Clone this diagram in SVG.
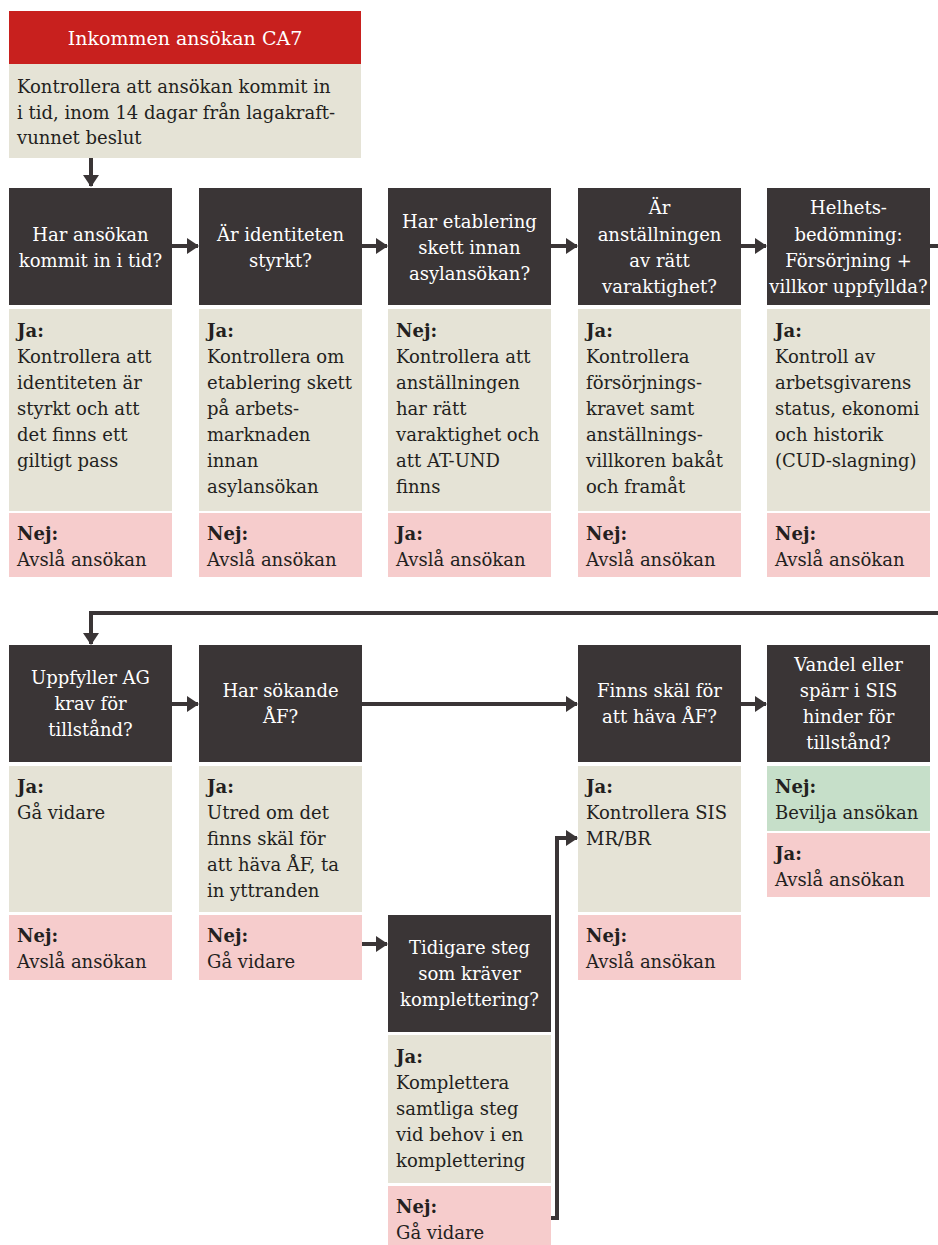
<svg xmlns="http://www.w3.org/2000/svg" width="938" height="1245" viewBox="0 0 938 1245">
<defs>
<style>
text{font-family:"DejaVu Serif","Liberation Serif",serif;font-size:18px;fill:#231f20}
.q{fill:#3a3536}
.q-t{fill:#ffffff;text-anchor:middle}
.title{font-size:19px}
.ja{fill:#e5e3d6}
.nej{fill:#f6cccc}
.ok{fill:#c6dfc9}
.red{fill:#c8201e}
.b{font-weight:bold}
.conn{fill:none;stroke:#3a3536;stroke-width:4}
</style>
<marker id="ah" markerUnits="userSpaceOnUse" markerWidth="12" markerHeight="16" refX="11" refY="8" orient="auto">
<path d="M0,0 L12,8 L0,16 Z" fill="#3a3536"/>
</marker>
</defs>
<rect width="938" height="1245" fill="#ffffff"/>

<g id="connectors">
<path class="conn" d="M91,158 V186" marker-end="url(#ah)"/>
<path class="conn" d="M172,246 H198" marker-end="url(#ah)"/>
<path class="conn" d="M362,246 H387" marker-end="url(#ah)"/>
<path class="conn" d="M551,246 H577" marker-end="url(#ah)"/>
<path class="conn" d="M740,246 H766" marker-end="url(#ah)"/>
<path class="conn" d="M929,246 H938"/>
<path class="conn" d="M938,613 H91 V644" marker-end="url(#ah)"/>
<path class="conn" d="M172,704 H198" marker-end="url(#ah)"/>
<path class="conn" d="M362,704 H577" marker-end="url(#ah)"/>
<path class="conn" d="M741,704 H766" marker-end="url(#ah)"/>
<path class="conn" d="M362,944 H387" marker-end="url(#ah)"/>
<path class="conn" d="M551,1218 H557 V838 H577" marker-end="url(#ah)"/>
</g>

<g id="start">
<rect class="red" x="9" y="11" width="352" height="53"/>
<text class="q-t title" x="185" y="45">Inkommen ansökan CA7</text>
<rect class="ja" x="9" y="64" width="352" height="94"/>
<text x="17" y="93">Kontrollera att ansökan kommit in</text>
<text x="17" y="119">i tid, inom 14 dagar från lagakraft-</text>
<text x="17" y="144">vunnet beslut</text>
</g>

<g id="n1">
<rect class="q" x="9" y="188" width="163" height="117"/>
<text class="q-t" x="90.5" y="241">Har ansökan</text>
<text class="q-t" x="90.5" y="267">kommit in i tid?</text>
<rect class="ja" x="9" y="309" width="163" height="202"/>
<text class="b" x="17" y="337">Ja:</text>
<text x="17" y="363">Kontrollera att</text>
<text x="17" y="389">identiteten är</text>
<text x="17" y="415">styrkt och att</text>
<text x="17" y="441">det finns ett</text>
<text x="17" y="467">giltigt pass</text>
<rect class="nej" x="9" y="513" width="163" height="64"/>
<text class="b" x="17" y="540">Nej:</text>
<text x="17" y="566">Avslå ansökan</text>
</g>

<g id="n2">
<rect class="q" x="199" y="188" width="163" height="117"/>
<text class="q-t" x="280.5" y="241">Är identiteten</text>
<text class="q-t" x="280.5" y="267">styrkt?</text>
<rect class="ja" x="199" y="309" width="163" height="202"/>
<text class="b" x="207" y="337">Ja:</text>
<text x="207" y="363">Kontrollera om</text>
<text x="207" y="389">etablering skett</text>
<text x="207" y="415">på arbets-</text>
<text x="207" y="441">marknaden</text>
<text x="207" y="467">innan</text>
<text x="207" y="493">asylansökan</text>
<rect class="nej" x="199" y="513" width="163" height="64"/>
<text class="b" x="207" y="540">Nej:</text>
<text x="207" y="566">Avslå ansökan</text>
</g>

<g id="n3">
<rect class="q" x="388" y="188" width="163" height="117"/>
<text class="q-t" x="469.5" y="228">Har etablering</text>
<text class="q-t" x="469.5" y="254">skett innan</text>
<text class="q-t" x="469.5" y="280">asylansökan?</text>
<rect class="ja" x="388" y="309" width="163" height="202"/>
<text class="b" x="396" y="337">Nej:</text>
<text x="396" y="363">Kontrollera att</text>
<text x="396" y="389">anställningen</text>
<text x="396" y="415">har rätt</text>
<text x="396" y="441">varaktighet och</text>
<text x="396" y="467">att AT-UND</text>
<text x="396" y="493">finns</text>
<rect class="nej" x="388" y="513" width="163" height="64"/>
<text class="b" x="396" y="540">Ja:</text>
<text x="396" y="566">Avslå ansökan</text>
</g>

<g id="n4">
<rect class="q" x="578" y="188" width="163" height="117"/>
<text class="q-t" x="659.5" y="214">Är</text>
<text class="q-t" x="659.5" y="241">anställningen</text>
<text class="q-t" x="659.5" y="267">av rätt</text>
<text class="q-t" x="659.5" y="293">varaktighet?</text>
<rect class="ja" x="578" y="309" width="163" height="202"/>
<text class="b" x="586" y="337">Ja:</text>
<text x="586" y="363">Kontrollera</text>
<text x="586" y="389">försörjnings-</text>
<text x="586" y="415">kravet samt</text>
<text x="586" y="441">anställnings-</text>
<text x="586" y="467">villkoren bakåt</text>
<text x="586" y="493">och framåt</text>
<rect class="nej" x="578" y="513" width="163" height="64"/>
<text class="b" x="586" y="540">Nej:</text>
<text x="586" y="566">Avslå ansökan</text>
</g>

<g id="n5">
<rect class="q" x="767" y="188" width="163" height="117"/>
<text class="q-t" x="848.5" y="214">Helhets-</text>
<text class="q-t" x="848.5" y="241">bedömning:</text>
<text class="q-t" x="848.5" y="267">Försörjning +</text>
<text class="q-t" x="848.5" y="293">villkor uppfyllda?</text>
<rect class="ja" x="767" y="309" width="163" height="202"/>
<text class="b" x="775" y="337">Ja:</text>
<text x="775" y="363">Kontroll av</text>
<text x="775" y="389">arbetsgivarens</text>
<text x="775" y="415">status, ekonomi</text>
<text x="775" y="441">och historik</text>
<text x="775" y="467">(CUD-slagning)</text>
<rect class="nej" x="767" y="513" width="163" height="64"/>
<text class="b" x="775" y="540">Nej:</text>
<text x="775" y="566">Avslå ansökan</text>
</g>

<g id="n6">
<rect class="q" x="9" y="645" width="163" height="117"/>
<text class="q-t" x="90.5" y="684">Uppfyller AG</text>
<text class="q-t" x="90.5" y="710">krav för</text>
<text class="q-t" x="90.5" y="736">tillstånd?</text>
<rect class="ja" x="9" y="766" width="163" height="146"/>
<text class="b" x="17" y="793">Ja:</text>
<text x="17" y="819">Gå vidare</text>
<rect class="nej" x="9" y="915" width="163" height="65"/>
<text class="b" x="17" y="942">Nej:</text>
<text x="17" y="968">Avslå ansökan</text>
</g>

<g id="n7">
<rect class="q" x="199" y="645" width="163" height="117"/>
<text class="q-t" x="280.5" y="697">Har sökande</text>
<text class="q-t" x="280.5" y="723">ÅF?</text>
<rect class="ja" x="199" y="766" width="163" height="146"/>
<text class="b" x="207" y="793">Ja:</text>
<text x="207" y="819">Utred om det</text>
<text x="207" y="845">finns skäl för</text>
<text x="207" y="871">att häva ÅF, ta</text>
<text x="207" y="897">in yttranden</text>
<rect class="nej" x="199" y="915" width="163" height="65"/>
<text class="b" x="207" y="942">Nej:</text>
<text x="207" y="968">Gå vidare</text>
</g>

<g id="n8">
<rect class="q" x="388" y="915" width="163" height="117"/>
<text class="q-t" x="469.5" y="954">Tidigare steg</text>
<text class="q-t" x="469.5" y="980">som kräver</text>
<text class="q-t" x="469.5" y="1006">komplettering?</text>
<rect class="ja" x="388" y="1035" width="163" height="148"/>
<text class="b" x="396" y="1063">Ja:</text>
<text x="396" y="1089">Komplettera</text>
<text x="396" y="1115">samtliga steg</text>
<text x="396" y="1141">vid behov i en</text>
<text x="396" y="1167">komplettering</text>
<rect class="nej" x="388" y="1186" width="163" height="59"/>
<text class="b" x="396" y="1213">Nej:</text>
<text x="396" y="1239">Gå vidare</text>
</g>

<g id="n9">
<rect class="q" x="578" y="645" width="163" height="117"/>
<text class="q-t" x="659.5" y="697">Finns skäl för</text>
<text class="q-t" x="659.5" y="723">att häva ÅF?</text>
<rect class="ja" x="578" y="766" width="163" height="146"/>
<text class="b" x="586" y="793">Ja:</text>
<text x="586" y="819">Kontrollera SIS</text>
<text x="586" y="845">MR/BR</text>
<rect class="nej" x="578" y="915" width="163" height="65"/>
<text class="b" x="586" y="942">Nej:</text>
<text x="586" y="968">Avslå ansökan</text>
</g>

<g id="n10">
<rect class="q" x="767" y="645" width="163" height="117"/>
<text class="q-t" x="848.5" y="671">Vandel eller</text>
<text class="q-t" x="848.5" y="697">spärr i SIS</text>
<text class="q-t" x="848.5" y="723">hinder för</text>
<text class="q-t" x="848.5" y="749">tillstånd?</text>
<rect class="ok" x="767" y="766" width="163" height="65"/>
<text class="b" x="775" y="793">Nej:</text>
<text x="775" y="819">Bevilja ansökan</text>
<rect class="nej" x="767" y="833" width="163" height="64"/>
<text class="b" x="775" y="860">Ja:</text>
<text x="775" y="886">Avslå ansökan</text>
</g>
</svg>
